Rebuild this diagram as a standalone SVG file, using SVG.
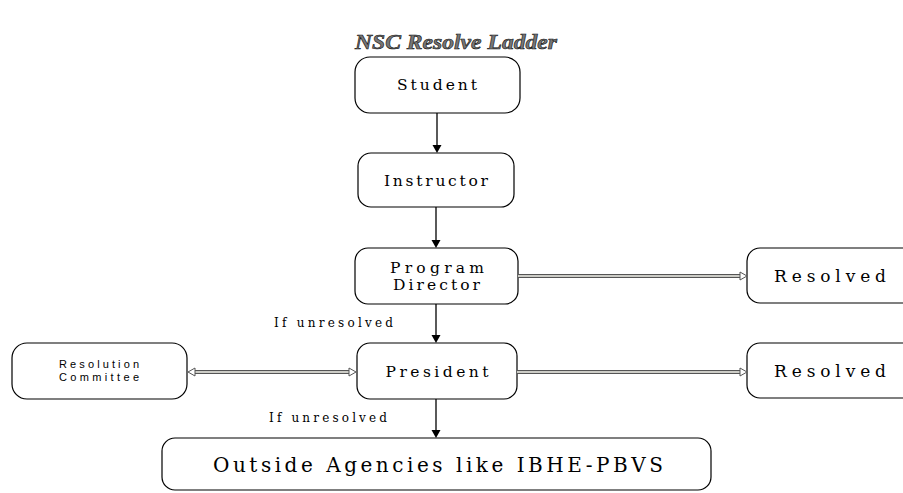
<svg xmlns="http://www.w3.org/2000/svg" width="903" height="493" viewBox="0 0 903 493">
<style>
.box{fill:#fff;stroke:#000;stroke-width:1.2}
.t{font-family:"DejaVu Serif","Liberation Serif",serif;font-size:15.5px;fill:#000;text-anchor:middle}
.lbl{font-family:"DejaVu Serif","Liberation Serif",serif;font-size:12px;fill:#000}
.sans{font-family:"Liberation Sans",Arial,sans-serif;font-size:11px;fill:#000;text-anchor:middle}
.title{font-family:"Liberation Serif",serif;font-style:italic;font-weight:bold;font-size:22px;fill:#777;stroke:#111;stroke-width:0.6;text-anchor:middle}
.arr{stroke:#000;stroke-width:1.3;fill:none}
.dbo{stroke:#555;stroke-width:4;fill:none}
.dbi{stroke:#f4f4ec;stroke-width:1.6;fill:none}
.head{fill:#000}
.ohead{fill:#fff;stroke:#555;stroke-width:1}
</style>
<text class="title" x="456" y="49" textLength="202" lengthAdjust="spacingAndGlyphs">NSC Resolve Ladder</text>
<g id="student"><rect class="box" x="355" y="57" width="165" height="56" rx="15"/><text class="t" x="437" y="90" textLength="80" lengthAdjust="spacing">Student</text></g>
<g id="instructor"><rect class="box" x="358" y="153" width="156" height="54" rx="13"/><text class="t" x="436" y="186" textLength="104" lengthAdjust="spacing">Instructor</text></g>
<g id="program-director"><rect class="box" x="355" y="248" width="163" height="56" rx="13"/><text class="t" x="437" y="273" textLength="94" lengthAdjust="spacing">Program</text><text class="t" x="436.5" y="290" textLength="87" lengthAdjust="spacing">Director</text></g>
<g id="president"><rect class="box" x="357" y="343" width="160" height="56" rx="13"/><text class="t" x="437" y="377" textLength="103" lengthAdjust="spacing">President</text></g>
<g id="resolution-committee"><rect class="box" x="12" y="343" width="175" height="56" rx="15"/><text class="sans" x="99" y="368" textLength="80" lengthAdjust="spacing">Resolution</text><text class="sans" x="99" y="381" textLength="80" lengthAdjust="spacing">Committee</text></g>
<g id="resolved-1"><rect class="box" x="747" y="248" width="170" height="55" rx="13"/><text class="t" x="830" y="282" textLength="112" lengthAdjust="spacing" style="font-size:17px">Resolved</text></g>
<g id="resolved-2"><rect class="box" x="747" y="343" width="170" height="55" rx="13"/><text class="t" x="830" y="377" textLength="112" lengthAdjust="spacing" style="font-size:17px">Resolved</text></g>
<g id="outside"><rect class="box" x="162" y="438" width="549" height="52" rx="13"/><text class="t" x="438" y="472" textLength="450" lengthAdjust="spacing" style="font-size:20px">Outside Agencies like IBHE-PBVS</text></g>
<g id="connectors">
<line class="arr" x1="437" y1="113" x2="437" y2="145"/><path class="head" d="M432.5,145 L441.5,145 L437,153 Z"/>
<line class="arr" x1="436" y1="207" x2="436" y2="240"/><path class="head" d="M431.5,240 L440.5,240 L436,248 Z"/>
<line class="arr" x1="436" y1="304" x2="436" y2="335"/><path class="head" d="M431.5,335 L440.5,335 L436,343 Z"/>
<line class="arr" x1="436" y1="399" x2="436" y2="430"/><path class="head" d="M431.5,430 L440.5,430 L436,438 Z"/>
<line class="dbo" x1="518" y1="276" x2="741" y2="276"/><line class="dbi" x1="518" y1="276" x2="742" y2="276"/><path class="ohead" d="M740,272 L747,276 L740,280 Z"/>
<line class="dbo" x1="517" y1="372" x2="741" y2="372"/><line class="dbi" x1="517" y1="372" x2="742" y2="372"/><path class="ohead" d="M740,368 L747,372 L740,376 Z"/>
<line class="dbo" x1="194" y1="372" x2="350" y2="372"/><line class="dbi" x1="193" y1="372" x2="351" y2="372"/><path class="ohead" d="M195,368 L188,372 L195,376 Z"/><path class="ohead" d="M349,368 L356,372 L349,376 Z"/>
<text class="lbl" x="274" y="327" textLength="119" lengthAdjust="spacing">If unresolved</text>
<text class="lbl" x="269" y="422" textLength="118" lengthAdjust="spacing">If unresolved</text>
</g>
</svg>
